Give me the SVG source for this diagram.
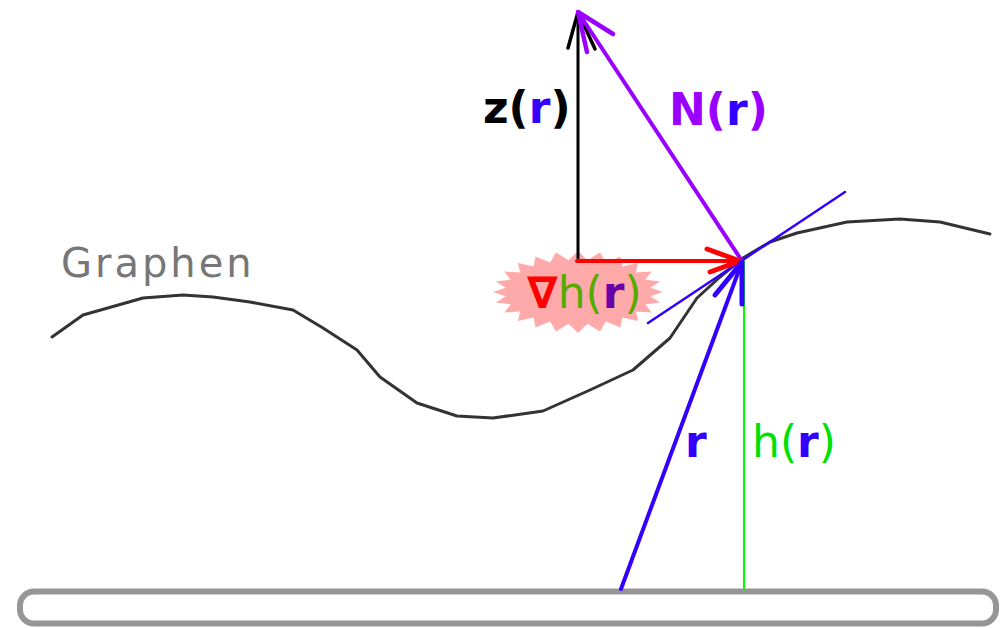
<svg xmlns="http://www.w3.org/2000/svg" width="1000" height="628" viewBox="0 0 1000 628">
<style>
.lbl{font-family:"DejaVu Sans","Liberation Sans",sans-serif;font-size:44px}
.b{font-weight:bold}
.thin{fill:none;stroke-linecap:round;stroke-linejoin:round}
</style>
<rect width="1000" height="628" fill="#ffffff"/>
<g id="substrate">
<rect x="20" y="591.5" width="976" height="32" rx="14" ry="14" fill="#ffffff" stroke="#969696" stroke-width="6"/>
</g>
<g id="graphen">
<polyline class="thin" stroke="#333333" stroke-width="3" points="52,337 83,315 143,298 183,295 213,297 250,302 293,310 323,328 357,350 380,377 417,403 457,416 493,418 543,411 590,390 633,370 670,338 697,298 720,277 743,258 770,242 797,233 847,222 900,219 940,222 990,234"/>
<text x="61" y="277" font-family="DejaVu Sans,Liberation Sans,sans-serif" font-size="40" letter-spacing="3" fill="#777777">Graphen</text>
</g>
<g id="gradient-label">
<polygon fill="#ffaaaa" points="663,292 650.4,296.2 660.1,302.6 645.4,304.2 651.6,312.5 635.9,311.5 638.1,321 622.4,317.4 620.5,327.5 605.9,321.6 600,331.6 587.5,323.7 578,333 568.5,323.7 556,331.6 550.1,321.6 535.5,327.5 533.6,317.4 517.9,321 520.1,311.5 504.4,312.5 510.6,304.2 495.9,302.6 505.6,296.2 493,292 505.6,287.8 495.9,281.4 510.6,279.8 504.4,271.5 520.1,272.5 517.9,263 533.6,266.6 535.5,256.5 550.1,262.4 556,252.4 568.5,260.3 578,251 587.5,260.3 600,252.4 605.9,262.4 620.5,256.5 622.4,266.6 638.1,263 635.9,272.5 651.6,271.5 645.4,279.8 660.1,281.4 650.4,287.8"/>
<text class="lbl" x="527" y="308" font-size="41"><tspan class="b" fill="#ff0000">∇</tspan><tspan fill="#55aa00">h(</tspan><tspan class="b" fill="#6a00a8">r</tspan><tspan fill="#55aa00">)</tspan></text>
</g>
<g id="connectors">
<line class="thin" x1="744" y1="261" x2="744" y2="589" stroke="#00ff00" stroke-width="2"/>
<line class="thin" x1="648" y1="323" x2="845" y2="192" stroke="#3300ff" stroke-width="2.5"/>
<line class="thin" x1="578" y1="258" x2="578" y2="12" stroke="#000000" stroke-width="3"/>
<polyline class="thin" points="568,48 578,12 595,49" stroke="#000000" stroke-width="3.5"/>
<line class="thin" x1="742" y1="261" x2="578" y2="12" stroke="#9a00ff" stroke-width="4"/>
<polyline class="thin" points="613,34 578,12 587,52" stroke="#9a00ff" stroke-width="4.5"/>
<line class="thin" x1="577" y1="261" x2="740" y2="261" stroke="#ff0000" stroke-width="4"/>
<polyline class="thin" points="707,249 740,261 710,272" stroke="#ff0000" stroke-width="5"/>
<line class="thin" x1="621" y1="589" x2="742" y2="262" stroke="#3300ff" stroke-width="4"/>
<polyline class="thin" points="715,295 742,262 742,304" stroke="#3300ff" stroke-width="5"/>
</g>
<g id="labels">
<text class="lbl b" x="483" y="123" fill="#000000">z(<tspan fill="#3300ff">r</tspan>)</text>
<text class="lbl b" x="669" y="125" fill="#9a00ff">N(<tspan fill="#3300ff">r</tspan>)</text>
<text class="lbl b" x="685" y="457" fill="#3300ff">r</text>
<text class="lbl" x="752" y="457" font-size="41" fill="#00e000">h(<tspan class="b" fill="#3300ff">r</tspan>)</text>
</g>
</svg>
